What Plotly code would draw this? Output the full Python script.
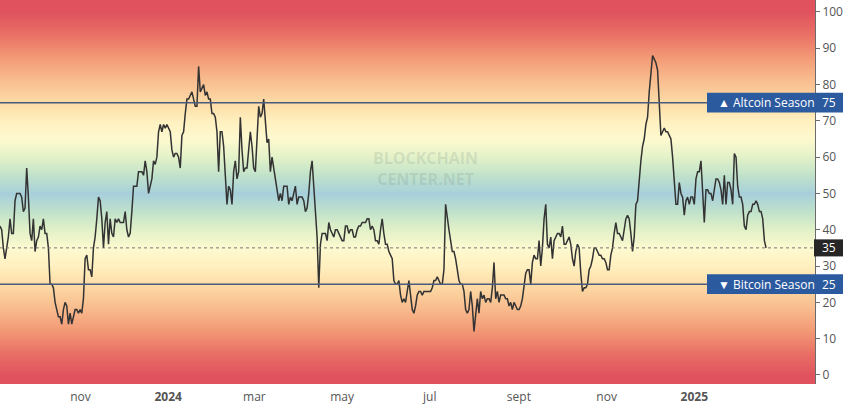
import pandas as pd
import plotly.graph_objects as go

# ---------------- data ----------------
start_date = "2023-09-06"
sample_step = "1672min"   # spacing of the sampled readings
index_values = [
    41, 40, 35, 32, 35, 38, 43, 39, 39, 48,
    50, 50, 50, 49, 45, 46, 57, 49, 39, 37,
    43, 34, 37, 38, 41, 40, 43, 39, 39, 35,
    25, 25, 24, 20, 18, 16, 16, 14, 18, 20,
    19, 14, 17, 14, 16, 18, 18, 17, 18, 17,
    21, 32, 33, 29, 29, 27, 35, 38, 43, 49,
    48, 43, 35, 42, 45, 36, 43, 39, 38, 43,
    42, 43, 42, 42, 42, 45, 40, 38, 39, 45,
    52, 52, 52, 56, 56, 56, 55, 59, 56, 50,
    52, 54, 59, 58, 60, 67, 69, 67, 69, 68,
    69, 68, 67, 62, 60, 61, 61, 60, 57, 66,
    67, 72, 76, 76, 77, 78, 76, 74, 74, 85,
    78, 79, 80, 77, 78, 76, 76, 72, 72, 71,
    67, 56, 67, 67, 63, 55, 47, 52, 51, 47,
    56, 59, 54, 56, 71, 62, 56, 57, 57, 62,
    67, 63, 57, 56, 65, 74, 71, 72, 76, 71,
    64, 65, 56, 60, 57, 55, 52, 48, 50, 48,
    52, 52, 52, 47, 49, 48, 50, 52, 47, 49,
    49, 49, 48, 45, 46, 50, 56, 59, 52, 44,
    38, 24, 36, 39, 39, 39, 37, 42, 40, 39,
    38, 40, 40, 39, 38, 37, 37, 41, 41, 39,
    40, 40, 38, 38, 40, 41, 41, 42, 42, 42,
    43, 43, 40, 41, 40, 37, 37, 36, 40, 43,
    39, 36, 36, 34, 33, 32, 26, 25, 25, 26,
    22, 20, 21, 20, 23, 26, 22, 18, 17, 19,
    22, 23, 23, 22, 23, 23, 23, 23, 23, 24,
    26, 26, 27, 26, 25, 25, 29, 47, 43, 40,
    37, 34, 34, 32, 29, 26, 25, 25, 23, 18,
    17, 18, 23, 19, 12, 17, 21, 17, 23, 21,
    22, 20, 21, 21, 20, 24, 31, 21, 23, 20,
    22, 22, 22, 21, 21, 19, 20, 18, 20, 19,
    18, 18, 19, 21, 25, 28, 29, 29, 25, 31,
    33, 32, 32, 37, 30, 35, 43, 47, 36, 35,
    38, 32, 37, 38, 39, 39, 38, 41, 36, 36,
    37, 38, 36, 32, 30, 34, 36, 35, 28, 23,
    24, 24, 25, 29, 30, 32, 35, 35, 34, 33,
    33, 32, 32, 31, 29, 29, 33, 35, 39, 42,
    39, 39, 38, 37, 40, 43, 44, 43, 39, 34,
    38, 47, 48, 55, 59, 63, 65, 69, 71, 78,
    84, 88, 87, 86, 84, 74, 66, 67, 68, 67,
    67, 66, 65, 60, 53, 47, 47, 53, 50, 49,
    44, 48, 49, 47, 49, 49, 47, 54, 56, 56,
    59, 50, 42, 51, 51, 50, 50, 48, 51, 54,
    54, 53, 51, 47, 55, 47, 53, 53, 51, 47,
    61, 60, 52, 49, 49, 47, 41, 40, 44, 45,
    45, 47, 47, 48, 47, 45, 45, 43, 37, 35,
]
x_range = ["2023-09-06", "2025-03-26"]
y_range = [-2.5, 103.3]
y_tick_values = [0, 10, 20, 30, 40, 50, 60, 70, 80, 90, 100]
x_tick_dates = ["2023-11-01", "2024-01-01", "2024-03-01", "2024-05-01",
                "2024-07-01", "2024-09-01", "2024-11-01", "2025-01-01"]
x_tick_labels = ["nov", "<b>2024</b>", "mar", "may", "jul", "sept", "nov", "<b>2025</b>"]
altcoin_level = 75
bitcoin_level = 25
altcoin_label = "▲ Altcoin Season"
bitcoin_label = "▼ Bitcoin Season"
gradient_levels = list(range(-10, 115))

dates = pd.date_range(start_date, periods=len(index_values), freq=sample_step)
current_value = index_values[-1]

# ---------------- figure ----------------
fig = go.Figure()

# background gradient (red - yellow - blue - yellow - red)
colorscale = [
    [0.00, "#e0535e"], [0.06, "#e96f65"], [0.12, "#f29774"], [0.18, "#f8b98b"],
    [0.24, "#fcd7a3"], [0.30, "#fff0bf"], [0.35, "#fdf9cf"], [0.40, "#e2f1c8"],
    [0.45, "#c0e2ca"], [0.50, "#a7cfdb"],
    [0.55, "#c0e2ca"], [0.60, "#e2f1c8"], [0.65, "#fdf9cf"], [0.70, "#fff0bf"],
    [0.76, "#fcd7a3"], [0.82, "#f8b98b"], [0.88, "#f29774"], [0.94, "#e96f65"],
    [1.00, "#e0535e"],
]
fig.add_trace(go.Heatmap(
    x=["2023-06-01", "2025-06-01"],
    y=gradient_levels,
    z=[[v, v] for v in gradient_levels],
    zmin=0, zmax=100,
    colorscale=colorscale,
    showscale=False,
    zsmooth="best",
    hoverinfo="skip",
))

fig.add_trace(go.Scatter(
    x=dates, y=index_values, mode="lines",
    line=dict(color="#333333", width=1.5),
    showlegend=False,
    name="Altcoin Season Index",
))

shapes = [
    dict(type="line", xref="paper", yref="y", x0=0, x1=1, y0=altcoin_level, y1=altcoin_level,
         line=dict(color="#4a5b7c", width=1.5)),
    dict(type="line", xref="paper", yref="y", x0=0, x1=1, y0=bitcoin_level, y1=bitcoin_level,
         line=dict(color="#4a5b7c", width=1.5)),
    dict(type="line", xref="paper", yref="y", x0=0, x1=1, y0=current_value, y1=current_value,
         line=dict(color="#777777", width=1, dash="dot")),
    dict(type="rect", xref="paper", yref="y", x0=707 / 815, x1=843 / 815,
         y0=altcoin_level - 2.7, y1=altcoin_level + 2.75,
         fillcolor="#2c5a9f", line=dict(width=0), layer="above"),
    dict(type="rect", xref="paper", yref="y", x0=707 / 815, x1=843 / 815,
         y0=bitcoin_level - 2.7, y1=bitcoin_level + 2.75,
         fillcolor="#2c5a9f", line=dict(width=0), layer="above"),
    dict(type="rect", xref="paper", yref="y", x0=814 / 815, x1=843 / 815,
         y0=current_value - 2.35, y1=current_value + 2.35,
         fillcolor="#262626", line=dict(width=0), layer="above"),
]

label_font = dict(family="Open Sans, sans-serif", size=12, color="white")
annotations = [
    dict(x=716 / 815, y=altcoin_level, xref="paper", yref="y", text=altcoin_label,
         showarrow=False, xanchor="left", yanchor="middle", font=label_font),
    dict(x=829 / 815, y=altcoin_level, xref="paper", yref="y", text=str(altcoin_level),
         showarrow=False, xanchor="center", yanchor="middle", font=label_font),
    dict(x=716 / 815, y=bitcoin_level, xref="paper", yref="y", text=bitcoin_label,
         showarrow=False, xanchor="left", yanchor="middle", font=label_font),
    dict(x=829 / 815, y=bitcoin_level, xref="paper", yref="y", text=str(bitcoin_level),
         showarrow=False, xanchor="center", yanchor="middle", font=label_font),
    dict(x=829 / 815, y=current_value, xref="paper", yref="y", text=str(current_value),
         showarrow=False, xanchor="center", yanchor="middle", font=label_font),
    dict(x=425 / 815, y=1 - 168 / 384, xref="paper", yref="paper",
         text="<b>BLOCKCHAIN<br>CENTER.NET</b>", showarrow=False,
         font=dict(family="Open Sans, sans-serif", size=16, color="rgba(95,115,115,0.16)")),
]

fig.update_layout(
    width=850, height=405,
    margin=dict(l=0, r=35, t=0, b=21),
    paper_bgcolor="white", plot_bgcolor="white",
    showlegend=False,
    shapes=shapes,
    annotations=annotations,
    xaxis=dict(
        range=x_range, type="date",
        tickmode="array", tickvals=x_tick_dates, ticktext=x_tick_labels,
        showgrid=False, zeroline=False, showline=False, ticks="",
        ticklabelstandoff=4,
        tickfont=dict(family="Open Sans, sans-serif", size=12, color="#555555"),
    ),
    yaxis=dict(
        range=y_range, side="right",
        tickmode="array", tickvals=y_tick_values,
        showgrid=False, zeroline=False,
        showline=True, linecolor="#6b6b6b", linewidth=1,
        ticks="outside", ticklen=4, tickcolor="#6b6b6b",
        tickfont=dict(family="Open Sans, sans-serif", size=12, color="#555555"),
    ),
)

fig.write_html(
    "out.html",
    config={"displayModeBar": False},
    post_script="document.body.style.margin='0';document.body.style.overflow='hidden';",
)
